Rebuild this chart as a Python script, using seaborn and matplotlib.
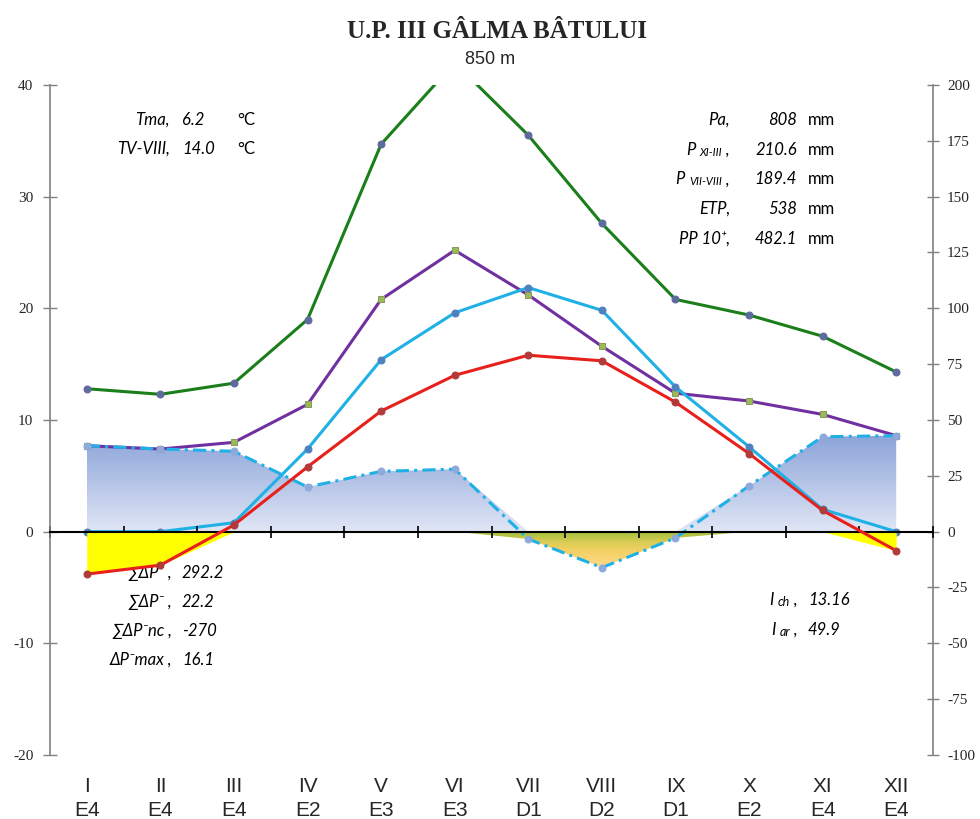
import numpy as np
import matplotlib
matplotlib.use('Agg')
import matplotlib.pyplot as plt
import matplotlib.transforms as mtransforms
from matplotlib.colors import LinearSegmentedColormap
import seaborn as sns

# ---------------------------------------------------------------
# Date climatice
luni = ['I', 'II', 'III', 'IV', 'V', 'VI', 'VII', 'VIII', 'IX', 'X', 'XI', 'XII']
coduri = ['E4', 'E4', 'E4', 'E2', 'E3', 'E3', 'D1', 'D2', 'D1', 'E2', 'E4', 'E4']
temperatura = [-3.8, -3.0, 0.6, 5.8, 10.8, 14.0, 15.8, 15.3, 11.6, 7.0, 1.9, -1.7]      # °C (ax stang)
prec_t3 = [12.8, 12.3, 13.3, 19.0, 34.7, 42.0, 35.5, 27.6, 20.8, 19.4, 17.5, 14.3]     # P/3 (ax stang)
precipitatii = [38.5, 37, 40, 57, 104, 126, 106, 83, 62, 58.5, 52.5, 43]                # mm (ax drept)
etp = [0, 0, 4, 37, 77, 98, 109.3, 99.1, 64.8, 38, 10, 0]                                # mm
delta_p = [38.5, 37, 36, 20, 27, 28, -3.3, -16.1, -2.8, 20.5, 42.5, 43]                  # mm, P - ETP
# ---------------------------------------------------------------

sns.set_style('white')
plt.rcParams['font.family'] = 'Liberation Serif'
plt.rcParams['axes.unicode_minus'] = False

W, H = 980, 819
def fx(px):
    return px / W
def fy(py):
    return 1 - py / H

x = np.arange(len(luni))

fig = plt.figure(figsize=(9.8, 8.19), dpi=100)
ax = fig.add_axes([fx(50), fy(755), 883 / W, 670 / H])
ax2 = ax.twinx()
ax.set_zorder(2)
ax2.set_zorder(1)
ax.patch.set_visible(False)

# --- suprafete (ax drept, mm) ---
pozitiv = np.clip(delta_p, 0, None)
negativ = np.clip(delta_p, None, 0)
grad = np.linspace(0, 1, 256).reshape(-1, 1)

fp = ax2.fill_between(x, 0, pozitiv, facecolor='none', edgecolor='none')
cm_alb = LinearSegmentedColormap.from_list('alb', ['#e0e6f5', '#8ca4d9'])
img = ax2.imshow(grad, extent=[x[0], x[-1], 0, max(delta_p)], origin='lower',
                 aspect='auto', cmap=cm_alb, zorder=1, interpolation='bilinear')
img.set_clip_path(fp.get_paths()[0], transform=ax2.transData)

fn = ax2.fill_between(x, negativ, 0, facecolor='none', edgecolor='none')
cm_neg = LinearSegmentedColormap.from_list('neg', ['#fdd98a', '#fbd577', '#f1d062', '#d6cc52', '#a3bf3c'])
img2 = ax2.imshow(grad, extent=[x[0], x[-1], min(delta_p), 0], origin='lower',
                  aspect='auto', cmap=cm_neg, zorder=1, interpolation='bilinear')
img2.set_clip_path(fn.get_paths()[0], transform=ax2.transData)

# --- linii ax drept ---
sns.lineplot(x=x, y=precipitatii, ax=ax2, color='#7030a0', lw=2.2, marker='s', markersize=4,
             markerfacecolor='#9bbb59', markeredgecolor='#8a9a5a', zorder=3)
sns.lineplot(x=x, y=etp, ax=ax2, color='#1fb0e6', lw=2.2, marker='o', markersize=5,
             markerfacecolor='#4f81bd', markeredgecolor='#4f81bd', zorder=4)
sns.lineplot(x=x, y=delta_p, ax=ax2, color='#1fb0e6', lw=2.2, marker='o', markersize=5,
             markerfacecolor='#8ea9db', markeredgecolor='#8ea9db', zorder=5,
             linestyle=(0, (4.3, 1.7, 1, 1.7)))

# --- ax stang (°C) ---
ax.fill_between(x, np.clip(temperatura, None, 0), 0, color='#ffff00', lw=0, zorder=1)
sns.lineplot(x=x, y=prec_t3, ax=ax, color='#1a7f1a', lw=2.2, marker='o', markersize=5,
             markerfacecolor='#5f6b9e', markeredgecolor='#5f6b9e', zorder=3)
sns.lineplot(x=x, y=temperatura, ax=ax, color='#e8201c', lw=2.2, marker='o', markersize=5,
             markerfacecolor='#b23a3a', markeredgecolor='#b23a3a', zorder=4)

# --- axe ---
ax.set_xlim(-0.5, 11.5)
ax.set_ylim(-20, 40)
ax2.set_ylim(-100, 200)
ax2.set_xlim(-0.5, 11.5)
ax.set_yticks(range(-20, 41, 10))
ax2.set_yticks(range(-100, 201, 25))
ax.set_xticks(np.arange(-0.5, 12, 1))
ax.set_xticklabels([])
ax.set_xlabel('')
ax.set_ylabel('')
ax2.set_ylabel('')

for s in ['top', 'right']:
    ax.spines[s].set_visible(False)
for s in ['top', 'left', 'bottom']:
    ax2.spines[s].set_visible(False)
ax.spines['bottom'].set_position(('data', 0))
ax.spines['bottom'].set_color('black')
ax.spines['bottom'].set_linewidth(1.5)
ax.spines['left'].set_color('#808080')
ax2.spines['right'].set_color('#808080')
ax.spines['left'].set_linewidth(1.2)
ax2.spines['right'].set_linewidth(1.2)

ax.tick_params(axis='x', direction='inout', length=9, width=1.2, color='black', bottom=True)
ax.tick_params(axis='y', direction='inout', length=10, width=1, color='#808080',
               labelsize=11, pad=7, left=True)
ax2.tick_params(axis='y', direction='inout', length=8, width=1, color='#808080',
                labelsize=11, pad=6, right=True)

# etichete luni
tr = mtransforms.blended_transform_factory(ax.transData, fig.transFigure)
font_ingust = ['Liberation Sans Narrow', 'Liberation Sans']
for i in range(len(luni)):
    ax.text(x[i], fy(786), luni[i], transform=tr, ha='center', va='center',
            family=font_ingust, fontsize=15)
    ax.text(x[i], fy(810), coduri[i], transform=tr, ha='center', va='center',
            family=font_ingust, fontsize=15)

# titlu
fig.text(fx(497), fy(32), 'U.P. III GÂLMA BÂTULUI', ha='center', va='center',
         family='Liberation Serif', weight='bold', fontsize=18)
fig.text(fx(490), fy(60), '850 m', ha='center', va='center', family=font_ingust, fontsize=13)

# --- indicatori text ---
stil = dict(family=['Lato', 'DejaVu Sans'], style='italic', color='black', zorder=0.5)
drept = dict(family=['Lato', 'DejaVu Sans'], color='black', zorder=0.5)

def eticheta(px, py, bucati):
    prev = None
    for txt, size in reversed(bucati):
        if prev is None:
            prev = ax2.text(fx(px), fy(py), txt, transform=fig.transFigure, ha='right',
                            va='baseline', fontsize=size, **stil)
        else:
            prev = ax2.annotate(txt, xy=(0, 0), xycoords=prev, ha='right', va='bottom',
                                fontsize=size, **stil)

def valoare(px, py, txt, ha='left', **kw):
    ax2.text(fx(px), fy(py), txt, transform=fig.transFigure, ha=ha, va='baseline',
             fontsize=12, **kw)

# stanga sus
eticheta(170, 125, [('Tma,', 12)])
valoare(182, 125, '6.2', **stil)
valoare(237, 125, '°C', **drept)
eticheta(170, 154, [('TV-VIII,', 12)])
valoare(182, 154, '14.0', **stil)
valoare(237, 154, '°C', **drept)

# dreapta sus
randuri = [
    ([('Pa,', 12)], '808'),
    ([('P ', 12), ('XI-III', 8), (' ,', 12)], '210.6'),
    ([('P ', 12), ('VII-VIII', 8), (' ,', 12)], '189.4'),
    ([('ETP,', 12)], '538'),
    ([('PP 10⁺,', 12)], '482.1'),
]
for k, (bucati, val) in enumerate(randuri):
    py = 125 + 29.7 * k
    eticheta(730, py, bucati)
    valoare(797, py, val, ha='right', **stil)
    valoare(808, py, 'mm', **drept)

# stanga jos
randuri_jos = [('∑ΔP⁺ ,', '292.2'), ('∑ΔP⁻ ,', '22.2'), ('∑ΔP⁻nc ,', '-270'), ('ΔP⁻max ,', '16.1')]
for k, (lbl, val) in enumerate(randuri_jos):
    py = 578 + 29 * k
    eticheta(172, py, [(lbl, 12)])
    valoare(182, py, val, **stil)

# dreapta jos
eticheta(798, 605, [('I ', 12), ('ch', 9), (' ,', 12)])
valoare(808, 605, '13.16', **stil)
eticheta(798, 635, [('I ', 12), ('ar', 9), (' ,', 12)])
valoare(808, 635, '49.9', **stil)

fig.savefig('out.png', dpi=100)
